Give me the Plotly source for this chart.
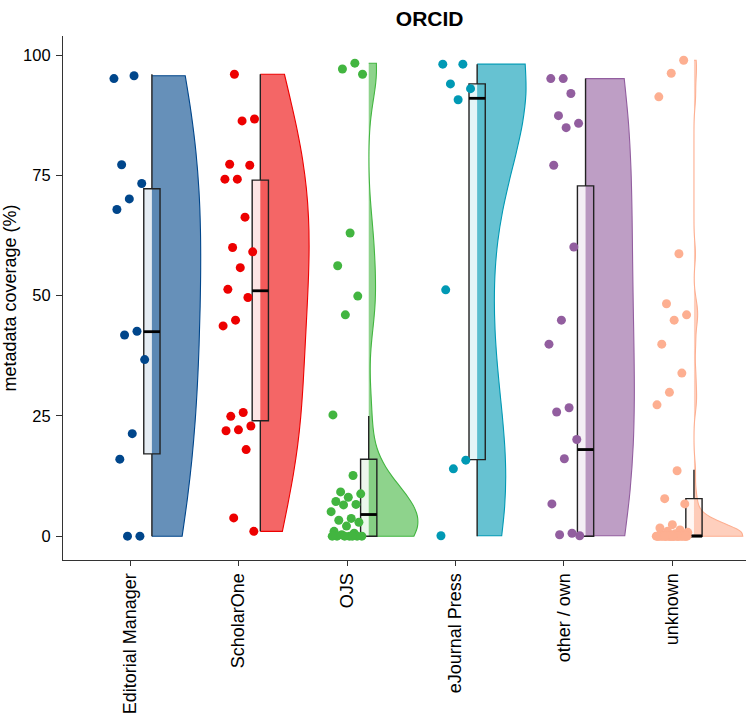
import numpy as np
import plotly.graph_objects as go

# ---------------- data ----------------
categories = ["Editorial Manager", "ScholarOne", "OJS", "eJournal Press", "other / own", "unknown"]
colors = ["#00468B", "#ED0000", "#42B540", "#0099B4", "#925E9F", "#FDAF91"]

editorial_manager = [95.1, 95.7, 77.2, 73.3, 70.1, 67.9, 42.6, 41.8, 36.7, 21.3, 16.0, 0.0, 0.0]
scholarone = [96.0, 86.7, 86.3, 77.3, 77.1, 74.2, 74.2, 66.3, 60.0, 59.1, 55.8, 51.3, 49.6,
              44.9, 43.7, 25.7, 24.9, 22.9, 22.1, 21.9, 18.0, 3.8, 1.0]
ojs = [98.3, 97.1, 96.0, 63.0, 56.2, 49.9, 46.0, 25.2, 12.6, 9.2, 8.8, 8.1, 7.2, 6.6, 6.5,
       5.1, 3.7, 3.3, 2.9, 2.1, 1.0, 0.6, 0.3, 0.0, 0.0, 0.0, 0.0, 0.0, 0.0, 0.0]
ejournal_press = [98.1, 98.1, 94.0, 93.0, 90.7, 51.2, 15.8, 14.0, 0.1]
other_own = [95.1, 95.1, 92.0, 87.4, 85.8, 84.9, 77.1, 60.1, 44.9, 39.9, 26.7, 25.8, 20.1,
             16.1, 6.7, 0.6, 0.3, 0.1]
unknown = [98.9, 96.2, 91.3, 58.7, 48.3, 46.0, 44.9, 39.9, 33.9, 29.9, 27.3, 13.6, 7.8, 6.7,
           2.4, 1.7, 1.3, 1.0, 0.8, 0.5, 0.3, 0.2,
           0.0, 0.0, 0.0, 0.0, 0.0, 0.0, 0.0, 0.0, 0.0, 0.0, 0.0, 0.0, 0.0, 0.0,
           0.0, 0.0, 0.0, 0.0, 0.0, 0.0, 0.0, 0.0, 0.0, 0.0, 0.0, 0.0, 0.0]

# box-plot statistics as drawn
box_lower = [0.0, 1.0, 0.0, 0.0, 0.0, 0.0]
box_q1 = [17.1, 24.0, 0.0, 15.9, 0.0, 0.0]
box_median = [42.5, 51.0, 4.5, 91.0, 18.0, 0.0]
box_q3 = [72.2, 74.0, 16.0, 94.0, 72.8, 7.8]
box_upper = [96.0, 96.0, 25.0, 98.1, 95.1, 13.8]

y_ticks = [0, 25, 50, 75, 100]

series = [editorial_manager, scholarone, ojs, ejournal_press, other_own, unknown]

# ---------------- style ----------------
FONT = "Liberation Sans, Arial, Helvetica, sans-serif"
OFFSET = 0.2        # violin/box shift to the right of the category
BOX_W = 0.15
VIOLIN_W = 0.9
JIT = 0.15
# kernel smoothing multiplier per violin (visual match)
BW_ADJUST = [1.4, 1.35, 0.85, 0.8, 1.6, 1.0]


def rgba(hex_color, a):
    h = hex_color.lstrip("#")
    r, g, b = int(h[0:2], 16), int(h[2:4], 16), int(h[4:6], 16)
    return f"rgba({r},{g},{b},{a})"


def nrd0(v):
    v = np.asarray(v, dtype=float)
    sd = v.std(ddof=1)
    iqr = np.subtract(*np.percentile(v, [75, 25]))
    lo = min(sd, iqr / 1.34) if iqr > 0 else sd
    return 0.9 * lo * len(v) ** (-0.2)


fig = go.Figure()

for i, (vals, col) in enumerate(zip(series, colors)):
    pos = i + 1
    fig.add_trace(go.Violin(
        x0=pos + OFFSET, y=vals, side="positive", width=VIOLIN_W,
        scalemode="width", spanmode="hard", bandwidth=nrd0(vals) * BW_ADJUST[i],
        points=False, fillcolor=rgba(col, 0.6), line=dict(color=col, width=1.1),
        box_visible=False, meanline_visible=False, showlegend=False, hoverinfo="y",
    ))

for i, col in enumerate(colors):
    pos = i + 1
    fig.add_trace(go.Box(
        x=[pos + OFFSET], lowerfence=[box_lower[i]], q1=[box_q1[i]], median=[box_median[i]],
        q3=[box_q3[i]], upperfence=[box_upper[i]], width=BOX_W, whiskerwidth=0,
        boxpoints=False, fillcolor=rgba(col, 0.1), line=dict(color="#222222", width=1.4),
        showlegend=False,
    ))

# thicker median bars
mx, my = [], []
for i in range(len(categories)):
    p = i + 1 + OFFSET
    mx += [p - BOX_W / 2, p + BOX_W / 2, None]
    my += [box_median[i], box_median[i], None]
fig.add_trace(go.Scatter(x=mx, y=my, mode="lines", line=dict(color="black", width=2.8),
                         showlegend=False, hoverinfo="skip"))

# jittered raw points (deterministic spread)
for i, (vals, col) in enumerate(zip(series, colors)):
    n = len(vals)
    k = np.arange(n)
    spread = ((k * 0.6180339887 + 0.37 * i) % 1.0 - 0.5) * 2 * JIT
    fig.add_trace(go.Scatter(
        x=(i + 1) + spread, y=vals, mode="markers",
        marker=dict(color=col, size=9, line=dict(width=0)),
        showlegend=False, hoverinfo="y",
    ))

fig.update_layout(
    width=746, height=718,
    margin=dict(l=63, r=0, t=36, b=158),
    paper_bgcolor="white", plot_bgcolor="white",
    font=dict(family=FONT, size=17, color="black"),
    title=dict(text="<b>ORCID</b>", x=(63 + 738) / 2 / 746, xanchor="center", xref="paper",
               y=0.984, yanchor="top", font=dict(size=21, color="black")),
    violinmode="overlay", boxmode="overlay",
    xaxis=dict(
        type="linear", range=[0.38, 6.68], tickmode="array",
        tickvals=list(range(1, len(categories) + 1)), ticktext=categories,
        tickangle=-90, showline=True, linecolor="#333333", linewidth=1.2,
        ticks="outside", ticklen=5, tickcolor="#333333", showgrid=False, zeroline=False,
        tickfont=dict(size=18, color="black"), automargin=False,
    ),
    yaxis=dict(
        range=[-4.95, 103.95], tickmode="array", tickvals=y_ticks,
        ticktext=[str(t) for t in y_ticks], showline=True, linecolor="#333333", linewidth=1.2,
        ticks="outside", ticklen=6, tickcolor="#333333", showgrid=False, zeroline=False,
        ticklabelstandoff=2,
        title=dict(text="metadata coverage (%)", font=dict(size=18), standoff=6),
        tickfont=dict(size=16.5, color="black"), automargin=False,
    ),
)

fig.write_html("out.html")
